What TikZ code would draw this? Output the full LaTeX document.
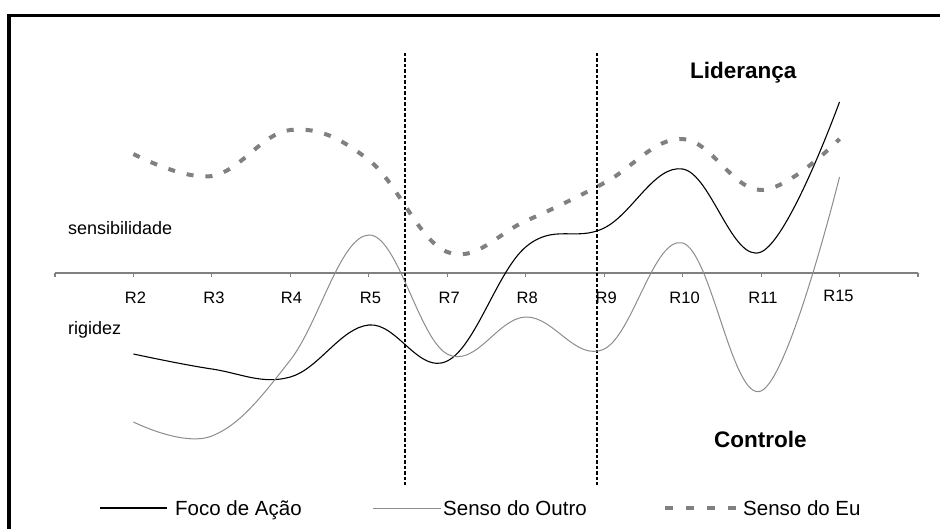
\documentclass[tikz,border=0pt]{standalone}
\usepackage{fontspec}
\setmainfont{Liberation Sans}
\definecolor{axisgray}{HTML}{808080}
\definecolor{outrogray}{HTML}{8C8C8C}
\definecolor{eugray}{HTML}{808080}
\tikzset{
  frameline/.style={draw=black, line width=3.3pt, line join=miter},
  axisline/.style={draw=axisgray, line width=1.3pt},
  tickline/.style={draw=axisgray, line width=1.1pt},
  focoline/.style={draw=black, line width=1.1pt},
  outroline/.style={draw=outrogray, line width=1pt},
  euline/.style={draw=eugray, line width=4pt, dash pattern=on 7pt off 12pt},
  divider/.style={draw=black, line width=2pt, dash pattern=on 3.5pt off 2pt},
  catlabel/.style={font=\fontsize{16.5pt}{19pt}\selectfont, anchor=base, inner sep=0pt},
  sidelabel/.style={font=\fontsize{18pt}{21pt}\selectfont, anchor=base west, inner sep=0pt},
  zonelabel/.style={font=\fontsize{22.5pt}{26pt}\selectfont\bfseries, anchor=base west, inner sep=0pt},
  legendlabel/.style={font=\fontsize{20.5pt}{24pt}\selectfont, anchor=base west, inner sep=0pt},
  smoothcurve/.style={smooth, tension=0.65}
}
\begin{document}
\begin{tikzpicture}[x=1pt, y=-1pt]
\useasboundingbox (0,0) rectangle (940,529);
% frame
\draw[frameline] (9,529) -- (9,15.6) -- (940,15.6);
% axis
\coordinate (axL) at (55,273);
\coordinate (axR) at (918,273);
\draw[axisline] (axL) -- (axR);
\foreach \k in {0,...,11} {
  \coordinate (t\k) at ({55+78.45*\k},273);
  \draw[tickline] (t\k) -- ++(0,4.5);
}
% category labels
\node[catlabel] (lR2)  at (135.5,304) {R2};
\node[catlabel] (lR3)  at (213.9,304) {R3};
\node[catlabel] (lR4)  at (291.4,304) {R4};
\node[catlabel] (lR5)  at (370.5,304) {R5};
\node[catlabel] (lR7)  at (449.2,304) {R7};
\node[catlabel] (lR8)  at (527.2,304) {R8};
\node[catlabel] (lR9)  at (606.2,304) {R9};
\node[catlabel] (lR10) at (684.6,304) {R10};
\node[catlabel] (lR11) at (763.0,304) {R11};
\node[catlabel] (lR15) at (838.5,301.5) {R15};
% dividers
\coordinate (d1t) at (404.5,53);
\coordinate (d1b) at (404.5,485);
\coordinate (d2t) at (597.3,53);
\coordinate (d2b) at (597.3,485);
\draw[divider] (d1t) -- (d1b);
\draw[divider] (d2t) -- (d2b);
% series
\draw[focoline] plot[smoothcurve] coordinates {(133.45,354) (211.9,369) (290.35,377) (368.8,325) (447.25,361) (525.7,247) (604.15,228) (682.6,169) (761.05,252) (839.5,102)};
\draw[outroline] plot[smoothcurve] coordinates {(133.45,422) (211.9,436) (290.35,360) (368.8,235) (447.25,354) (525.7,317) (604.15,349) (682.6,243) (761.05,391) (839.5,177)};
\draw[euline] plot[smoothcurve] coordinates {(133.45,154) (211.9,176) (290.35,130) (368.8,160) (447.25,252) (525.7,221) (604.15,183) (682.6,139) (761.05,190) (839.5,139)};
% side labels
\node[sidelabel] (sens) at (68,235) {sensibilidade};
\node[sidelabel] (rig) at (68,335) {rigidez};
\node[zonelabel] (lid) at (690,79) {Liderança};
\node[zonelabel] (ctl) at (714,447) {Controle};
% legend
\coordinate (lg1a) at (100,508);
\coordinate (lg1b) at (167,508);
\draw[focoline] (lg1a) -- (lg1b);
\node[legendlabel] (lgt1) at (175,515) {Foco de Ação};
\coordinate (lg2a) at (373,508);
\coordinate (lg2b) at (441,508);
\draw[outroline] (lg2a) -- (lg2b);
\node[legendlabel] (lgt2) at (443,515) {Senso do Outro};
\coordinate (lg3a) at (665,508);
\coordinate (lg3b) at (737,508);
\draw[euline, dash pattern=on 8pt off 13pt] (lg3a) -- (lg3b);
\node[legendlabel] (lgt3) at (743,515) {Senso do Eu};
\end{tikzpicture}
\end{document}
